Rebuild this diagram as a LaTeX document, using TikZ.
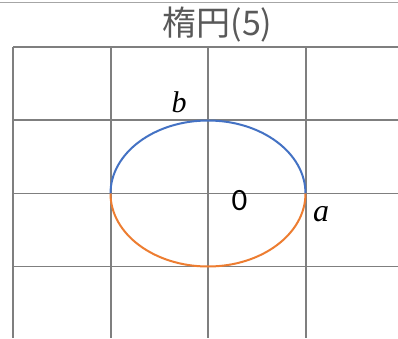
\documentclass[tikz,border=0pt]{standalone}
\usepackage{fontspec}
\newfontfamily\cjkfont{Noto Sans CJK JP}
\newfontfamily\numfont{Carlito}
\newfontfamily\varfont{Liberation Serif}
\definecolor{titlegrey}{HTML}{595959}
\definecolor{gridgrey}{HTML}{7F7F7F}
\definecolor{topgrey}{HTML}{A6A6A6}
\definecolor{ellblue}{HTML}{4472C4}
\definecolor{ellorange}{HTML}{ED7D31}
\begin{document}
\begin{tikzpicture}[x=1pt,y=-1pt,
  gridline/.style={draw=gridgrey,line width=1.2pt},
  curve/.style={line width=2pt},
  lbl/.style={inner sep=0pt,text=black}]
\useasboundingbox (0,0) rectangle (398,338);
\fill[white] (0,0) rectangle (398,338);
% top border line
\draw[topgrey,line width=1pt] (0,2.5) -- (398,2.5);
% grid
\foreach \gx in {13,111,208,306} \draw[gridline] (\gx,47) -- (\gx,338);
\foreach \gy in {47,120,193.5,266.5} \draw[gridline] (13,\gy) -- (398,\gy);
% ellipse
\coordinate (c) at (208,193.5);
\draw[curve,ellblue] (110.5,193.5) arc[start angle=180,end angle=360,x radius=97.5,y radius=73];
\draw[curve,ellorange] (305.5,193.5) arc[start angle=0,end angle=180,x radius=97.5,y radius=73];
% title and labels
\node[lbl,text=titlegrey] (title) at (217.5,25) {\cjkfont\fontsize{34}{34}\selectfont 楕円(5)};
\node[lbl] (lb) at (179,102) {\varfont\fontsize{30}{30}\selectfont\itshape b};
\node[lbl] (lo) at (239.5,201) {\numfont\fontsize{31}{31}\selectfont 0};
\node[lbl] (la) at (321,214) {\varfont\fontsize{32}{32}\selectfont\itshape a};
\end{tikzpicture}
\end{document}
